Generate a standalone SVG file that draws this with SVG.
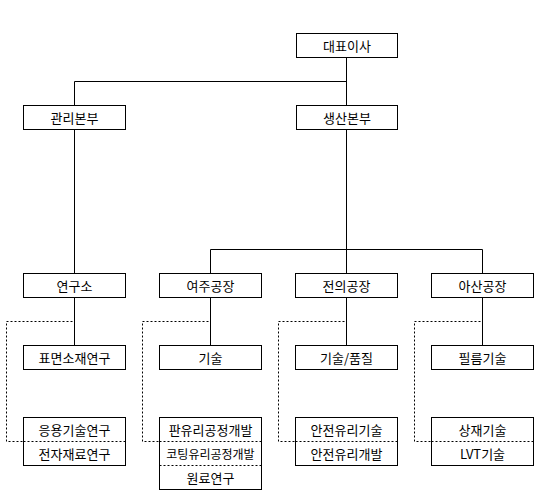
<svg xmlns="http://www.w3.org/2000/svg" width="552" height="499" viewBox="0 0 552 499">
<style>
.box{fill:#fff;stroke:#000;stroke-width:1}
.ln{fill:none;stroke:#000;stroke-width:1}
.dot{fill:none;stroke:#000;stroke-width:1;stroke-dasharray:2 2}
text{font-family:"Noto Sans CJK KR","Noto Sans",sans-serif;font-size:13px;fill:#000;text-anchor:middle;dominant-baseline:central}
.sm{font-size:12px}
</style>
<rect width="552" height="499" fill="#fff"/>
<g id="connectors">
<path class="ln" d="M346.5 57.5V105.5M74.5 81.5H346.5M74.5 81.5V105.5M74.5 129.5V273.5M346.5 129.5V249.5M210.5 249.5H482.5M210.5 249.5V273.5M346.5 249.5V273.5M482.5 249.5V273.5"/>
<path class="ln" d="M74.5 297.5V345.5M210.5 297.5V345.5M346.5 297.5V345.5M482.5 297.5V345.5"/>
<path class="dot" d="M72.5 321.5H6.5V441.5H23.5M208.5 321.5H142.5V441.5H159.5M344.5 321.5H278.5V441.5H295.5M480.5 321.5H414.5V441.5H431.5"/>
</g>
<g id="ceo"><rect class="box" x="296.5" y="33.5" width="101" height="24"/><text x="347" y="45.5">대표이사</text></g>
<g id="mgmt"><rect class="box" x="23.5" y="105.5" width="102" height="24"/><text x="74.5" y="117.5">관리본부</text></g>
<g id="prod"><rect class="box" x="296.5" y="105.5" width="101" height="24"/><text x="347" y="117.5">생산본부</text></g>
<g id="lab"><rect class="box" x="23.5" y="273.5" width="102" height="24"/><text x="74.5" y="285.5">연구소</text></g>
<g id="yeoju"><rect class="box" x="159.5" y="273.5" width="102" height="24"/><text x="210.5" y="285.5">여주공장</text></g>
<g id="jeonui"><rect class="box" x="295.5" y="273.5" width="102" height="24"/><text x="346.5" y="285.5">전의공장</text></g>
<g id="asan"><rect class="box" x="431.5" y="273.5" width="102" height="24"/><text x="482.5" y="285.5">아산공장</text></g>
<g id="surface"><rect class="box" x="23.5" y="345.5" width="102" height="24"/><text x="74.5" y="357.5">표면소재연구</text></g>
<g id="tech1"><rect class="box" x="159.5" y="345.5" width="102" height="24"/><text x="210.5" y="357.5">기술</text></g>
<g id="techq"><rect class="box" x="295.5" y="345.5" width="102" height="24"/><text x="346.5" y="357.5">기술/품질</text></g>
<g id="film"><rect class="box" x="431.5" y="345.5" width="102" height="24"/><text x="482.5" y="357.5">필름기술</text></g>
<g id="lab-stack">
<rect class="box" x="23.5" y="417.5" width="102" height="48"/>
<path class="dot" d="M23.5 441.5H125.5"/>
<g id="applied"><text x="74.5" y="429.5">응용기술연구</text></g>
<g id="electronic"><text x="74.5" y="453.5">전자재료연구</text></g>
</g>
<g id="yeoju-stack">
<rect class="box" x="159.5" y="417.5" width="102" height="72"/>
<path class="dot" d="M159.5 441.5H261.5M159.5 465.5H261.5"/>
<g id="sheet"><text x="210.5" y="429.5">판유리공정개발</text></g>
<g id="coating"><text class="sm" x="210.5" y="453.5">코팅유리공정개발</text></g>
<g id="raw"><text x="210.5" y="477.5">원료연구</text></g>
</g>
<g id="jeonui-stack">
<rect class="box" x="295.5" y="417.5" width="102" height="48"/>
<path class="dot" d="M295.5 441.5H397.5"/>
<g id="safety-tech"><text x="346.5" y="429.5">안전유리기술</text></g>
<g id="safety-dev"><text x="346.5" y="453.5">안전유리개발</text></g>
</g>
<g id="asan-stack">
<rect class="box" x="431.5" y="417.5" width="102" height="48"/>
<path class="dot" d="M431.5 441.5H533.5"/>
<g id="commercial"><text x="482.5" y="429.5">상재기술</text></g>
<g id="lvt"><text x="482.5" y="453.5">LVT기술</text></g>
</g>
</svg>
